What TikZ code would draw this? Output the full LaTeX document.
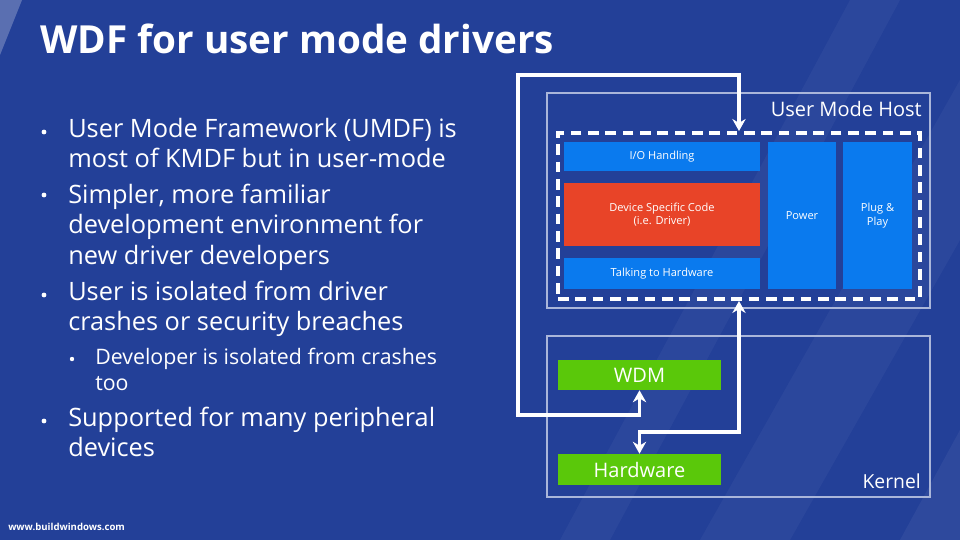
\documentclass[tikz,border=0pt]{standalone}
\usepackage{fontspec}
\setmainfont{Open Sans}
\usetikzlibrary{arrows.meta,calc,positioning}
\definecolor{slidebg}{RGB}{35,64,152}
\definecolor{boxblue}{RGB}{10,122,238}
\definecolor{boxred}{RGB}{232,68,40}
\definecolor{boxgreen}{RGB}{90,200,10}
\definecolor{frameline}{RGB}{170,182,218}
\tikzset{>={Stealth[length=9pt,width=10pt]}}
\tikzstyle{layer}=[rectangle,fill=boxblue,text=white,inner sep=0pt,font=\fontsize{8.3}{10}\selectfont,align=center]
\tikzstyle{drvlayer}=[layer,fill=boxred]
\tikzstyle{kbox}=[rectangle,fill=boxgreen,text=white,inner sep=0pt,font=\fontsize{15}{18}\selectfont]
\tikzstyle{frame}=[rectangle,draw=frameline,line width=1.6pt,inner sep=0pt]
\tikzstyle{fwframe}=[rectangle,draw=white,line width=3pt,dash pattern=on 8pt off 5pt,inner sep=0pt]
\tikzstyle{conn}=[draw=white,line width=2.4pt]
\tikzstyle{bline}=[text=white,anchor=base west,inner sep=0pt,font=\fontsize{19}{23}\selectfont]
\tikzstyle{sline}=[bline,font=\fontsize{16}{19}\selectfont]

\begin{document}
\begin{tikzpicture}[x=0.75pt,y=-0.75pt]
\def \wl {147pt};
\def \hl {21.75pt};

% background
\fill[slidebg] (0,0) rectangle (960,540);
\useasboundingbox (0,0) rectangle (960,540);
\fill[white,opacity=0.25] (0,0) -- (22,0) -- (0,55) -- cycle;
\fill[white,opacity=0.04] (560,540) -- (610,540) -- (900,0) -- (850,0) -- cycle;
\fill[white,opacity=0.04] (700,540) -- (790,540) -- (960,240) -- (960,80) -- cycle;
\fill[white,opacity=0.05] (900,540) -- (960,540) -- (960,430) -- cycle;

% title
\node[text=white,anchor=base west,inner sep=0pt,font=\fontsize{29}{35}\bfseries] (title) at (40,53) {WDF for user mode drivers};

% bullets
\foreach \y/\t [count=\n] in {137/User Mode Framework (UMDF) is,167/most of KMDF but in user-mode,
    203/{Simpler, more familiar},233/development environment for,264/new driver developers,
    300/User is isolated from driver,330/crashes or security breaches,
    426/Supported for many peripheral,456/devices} {
  \node[bline] (line\n) at (68,\y) {\t};
};
\node[sline] (sub1) at (95,364) {Developer is isolated from crashes};
\node[sline] (sub2) at (95,390) {too};
\foreach \y in {132,195,295,421} {
  \fill[white] (44,\y) circle (2.4);
};
\fill[white] (72,359) circle (2.2);

% user mode host
\node[frame,minimum width=287.25pt,minimum height=161.25pt] (host) at (738.5,200.5) {};
\node[text=white,anchor=north east,inner sep=0pt,font=\fontsize{15}{18}\selectfont] (hostlbl) at (922,101) {User Mode Host};
\node[fwframe,minimum width=271.5pt,minimum height=124.5pt] (fw) at (739,216) {};

\node[layer,minimum width=\wl,minimum height=\hl] (io) at (662,156.5) {I/O Handling};
\node[drvlayer,minimum width=\wl,minimum height=47.25pt] (drv) at (662,214.5) {Device Specific Code\\(i.e. Driver)};
\node[layer,minimum width=\wl,minimum height=23.25pt] (talk) at (662,273.5) {Talking to Hardware};
\node[layer,minimum width=51pt,minimum height=110.25pt] (power) at (802,215.5) {Power};
\node[layer,minimum width=51.75pt,minimum height=110.25pt] (pnp) at (877.5,215.5) {Plug \&\\Play};

% kernel
\node[frame,minimum width=287.25pt,minimum height=120.75pt] (kernel) at (738.5,416.5) {};
\node[text=white,anchor=south east,inner sep=0pt,font=\fontsize{14.5}{18}\selectfont] (kernlbl) at (921,489) {Kernel};
\node[kbox,minimum width=122.25pt,minimum height=22.5pt] (wdm) at (639.5,375) {WDM};
\node[kbox,minimum width=122.25pt,minimum height=23.25pt] (hw) at (639.5,469.5) {Hardware};

% connectors
\coordinate (loopA) at (518,415);
\coordinate (loopB) at (518,75);
\coordinate (hwbend) at (639.5,432);
\draw[conn,<->] (wdm.south) |- (loopA) -- (loopB) -| (fw.north);
\draw[conn,<->] (fw.south) |- (hwbend) -- (hw.north);

% footer
\node[text=white,anchor=base west,inner sep=0pt,font=\fontsize{7.2}{9}\bfseries] (url) at (8,530) {www.buildwindows.com};
\end{tikzpicture}
\end{document}
